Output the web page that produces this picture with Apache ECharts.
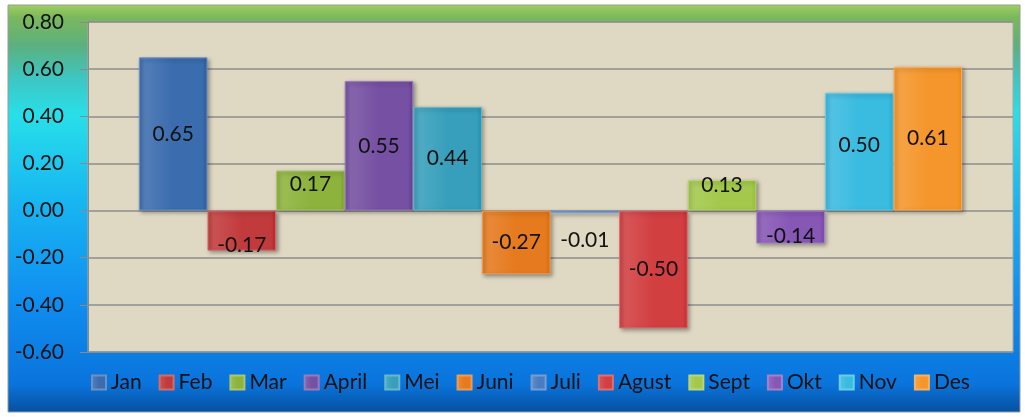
<!DOCTYPE html>
<html>
<head>
<meta charset="utf-8">
<script src="https://cdn.jsdelivr.net/npm/echarts@6/dist/echarts.min.js"></script>
<style>
  html, body { margin: 0; padding: 0; background: #fff; }
  #chart { width: 1025px; height: 417px; }
</style>
</head>
<body>
<div id="chart"></div>
<script>
var months = ['Jan', 'Feb', 'Mar', 'April', 'Mei', 'Juni', 'Juli', 'Agust', 'Sept', 'Okt', 'Nov', 'Des'];
var values = [0.65, -0.17, 0.17, 0.55, 0.44, -0.27, -0.01, -0.50, 0.13, -0.14, 0.50, 0.61];
var colors = ['#3b6cae', '#c23b3c', '#8db33d', '#7650a2', '#379fbb', '#e57a1e',
              '#4a7cc0', '#d23f41', '#a3c84b', '#8757b5', '#3abbe0', '#f5962c'];
var labelShift = [0, 15, -6, 0, 0, 0, 28, 0, -10, 9, -6, 0];
var yTicks = { min: -0.6, max: 0.8, interval: 0.2 };

var chartElement = document.getElementById('chart');
var chart = echarts.init(chartElement);

function lighten(hex, amt) {
    var n = parseInt(hex.slice(1), 16);
    var r = (n >> 16) & 255, g = (n >> 8) & 255, b = n & 255;
    r = Math.round(r + (255 - r) * amt);
    g = Math.round(g + (255 - g) * amt);
    b = Math.round(b + (255 - b) * amt);
    return 'rgb(' + r + ',' + g + ',' + b + ')';
}

var series = months.map(function (m, i) {
    return {
        name: m,
        type: 'bar',
        barGap: '0%',
        barCategoryGap: '11%',
        data: [values[i]],
        itemStyle: {
            color: {
                type: 'linear', x: 0, y: 0, x2: 1, y2: 0,
                colorStops: [
                    { offset: 0, color: colors[i] },
                    { offset: 0.08, color: lighten(colors[i], 0.12) },
                    { offset: 0.5, color: colors[i] },
                    { offset: 0.92, color: colors[i] },
                    { offset: 1, color: lighten(colors[i], -0.1) }
                ]
            },
            borderColor: lighten(colors[i], 0.25),
            borderWidth: 1,
            shadowBlur: 4,
            shadowColor: 'rgba(0,0,0,0.35)',
            shadowOffsetX: 2,
            shadowOffsetY: 2
        },
        label: {
            show: true,
            position: 'inside',
            offset: [0, labelShift[i]],
            formatter: function (p) { return p.value.toFixed(2); },
            color: '#111',
            fontFamily: 'Lato',
            fontSize: 21
        }
    };
});

var option = {
    animation: false,
    graphic: [
        {
            type: 'rect',
            z: -10,
            shape: { x: 8, y: 5, width: 1012, height: 407 },
            style: {
                fill: {
                    type: 'linear', x: 0, y: 0, x2: 0, y2: 1,
                    colorStops: [
                        { offset: 0, color: '#a0d060' },
                        { offset: 0.03, color: '#7cb85c' },
                        { offset: 0.1, color: '#5cb07e' },
                        { offset: 0.18, color: '#3ec6c2' },
                        { offset: 0.27, color: '#28dfe9' },
                        { offset: 0.48, color: '#18b6f2' },
                        { offset: 0.72, color: '#108ff0' },
                        { offset: 0.93, color: '#0a74dc' },
                        { offset: 1, color: '#06509e' }
                    ]
                },
                stroke: '#9a9a9a',
                lineWidth: 1
            }
        }
    ],
    grid: {
        left: 88,
        right: 12,
        top: 22,
        bottom: 65,
        show: true,
        backgroundColor: '#dfd9c4',
        borderColor: '#a8a8a0',
        borderWidth: 1
    },
    legend: {
        data: months,
        left: 86,
        top: 367,
        icon: 'rect',
        itemWidth: 14,
        itemHeight: 14,
        itemGap: 17,
        textStyle: { fontFamily: 'Lato', fontSize: 21, color: '#111' }
    },
    xAxis: {
        type: 'category',
        data: [''],
        axisLine: { show: false },
        axisTick: { show: false },
        axisLabel: { show: false }
    },
    yAxis: {
        type: 'value',
        min: yTicks.min,
        max: yTicks.max,
        interval: yTicks.interval,
        axisLine: { show: true, lineStyle: { color: '#8a8a8a', width: 1 } },
        axisTick: { show: true, length: 8, lineStyle: { color: '#8a8a8a' } },
        axisLabel: {
            margin: 24,
            fontFamily: 'Lato',
            fontSize: 21,
            color: '#111',
            formatter: function (v) { return v.toFixed(2); }
        },
        splitLine: { lineStyle: { color: '#8c8c8c', width: 1.5 } }
    },
    series: series
};

chart.setOption(option);
</script>
</body>
</html>
